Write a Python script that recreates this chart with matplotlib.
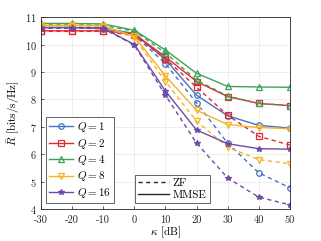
import numpy as np
import matplotlib
matplotlib.use('Agg')
from matplotlib import pyplot as plt
from matplotlib.lines import Line2D

plt.rcParams['font.family'] = 'serif'
plt.rcParams['font.serif'] = ['cmr10', 'DejaVu Serif']
plt.rcParams['mathtext.fontset'] = 'cm'
plt.rcParams['axes.formatter.use_mathtext'] = True

kappa = [-30, -20, -10, 0, 10, 20, 30, 40, 50]
q_labels = ['$Q = 1$', '$Q = 2$', '$Q = 4$', '$Q = 8$', '$Q = 16$']

# MMSE (solid) and ZF (dashed) rates per Q
mmse_q1 = [10.62, 10.62, 10.60, 10.40, 9.45, 8.15, 7.40, 7.05, 6.95]
zf_q1 = [10.60, 10.60, 10.58, 10.35, 9.30, 7.87, 6.40, 5.32, 4.77]
mmse_q2 = [10.50, 10.50, 10.50, 10.38, 9.55, 8.65, 8.10, 7.85, 7.77]
zf_q2 = [10.48, 10.48, 10.48, 10.33, 9.48, 8.44, 7.42, 6.65, 6.33]
mmse_q4 = [10.77, 10.77, 10.75, 10.52, 9.80, 8.95, 8.47, 8.45, 8.44]
zf_q4 = [10.72, 10.72, 10.70, 10.48, 9.70, 8.70, 8.12, 7.85, 7.77]
mmse_q8 = [10.70, 10.70, 10.68, 10.30, 8.85, 7.60, 7.08, 6.97, 6.93]
zf_q8 = [10.68, 10.68, 10.65, 10.25, 8.65, 7.20, 6.25, 5.80, 5.65]
mmse_q16 = [10.62, 10.62, 10.60, 10.00, 8.30, 6.88, 6.38, 6.20, 6.18]
zf_q16 = [10.60, 10.60, 10.58, 9.98, 8.15, 6.40, 5.13, 4.43, 4.15]

mmse = [mmse_q1, mmse_q2, mmse_q4, mmse_q8, mmse_q16]
zf = [zf_q1, zf_q2, zf_q4, zf_q8, zf_q16]
colors = ['#4472c4', '#e0282e', '#3da35a', '#f5b324', '#6f4aa6']
markers = ['o', 's', '^', 'v', '*']

fig = plt.figure(figsize=(3.21, 2.41), dpi=100)
ax = fig.add_axes([0.128, 0.133, 0.775, 0.796])

handles = []
for i in range(5):
    mfc = colors[i] if markers[i] == '*' else 'none'
    ax.plot(kappa, zf[i], '--', color=colors[i], marker=markers[i], mfc=mfc,
            ms=4, lw=1.0, mew=0.9, dashes=(3, 2.5))
    h, = ax.plot(kappa, mmse[i], '-', color=colors[i], marker=markers[i], mfc=mfc,
                 ms=4, lw=1.0, mew=0.9)
    handles.append(h)

ax.set_xlim(-30, 50)
ax.set_ylim(4, 11)
ax.set_xticks(kappa)
ax.set_xticklabels(['-30', '-20', '-10', '0', '10', '20', '30', '40', '50'])
ax.set_yticks(range(4, 12))
ax.tick_params(labelsize=7.5, length=2, width=0.5, direction='in', colors='#262626')
ax.tick_params(axis='x', pad=4.5)
ax.tick_params(axis='y', pad=3)
ax.grid(True, color='#e6e6e6', lw=0.5)
for s in ax.spines.values():
    s.set_color('#262626')
    s.set_linewidth(0.6)
ax.set_xlabel(r'$\kappa$ [dB]', fontsize=8, labelpad=0)
ax.set_ylabel(r'$\bar{R}$ [bits/s/Hz]', fontsize=8, labelpad=2)

leg1 = ax.legend(handles, q_labels, loc='lower left', bbox_to_anchor=(0.018, 0.03),
                 fontsize=8, handlelength=2.2, handletextpad=0.3, labelspacing=0.22,
                 borderpad=0.3, borderaxespad=0, fancybox=False, edgecolor='#262626', framealpha=1)
leg1.get_frame().set_linewidth(0.5)
ax.add_artist(leg1)

style_handles = [Line2D([], [], color='#262626', ls='--', lw=1.0, dashes=(3, 2.5)),
                 Line2D([], [], color='#262626', ls='-', lw=1.0)]
leg2 = ax.legend(style_handles, ['ZF', 'MMSE'], loc='lower left', bbox_to_anchor=(0.376, 0.03),
                 fontsize=8, handlelength=2.8, handletextpad=0.3, labelspacing=0.22,
                 borderpad=0.3, borderaxespad=0, fancybox=False, edgecolor='#262626', framealpha=1)
leg2.get_frame().set_linewidth(0.5)

fig.savefig('out.png', dpi=100)
